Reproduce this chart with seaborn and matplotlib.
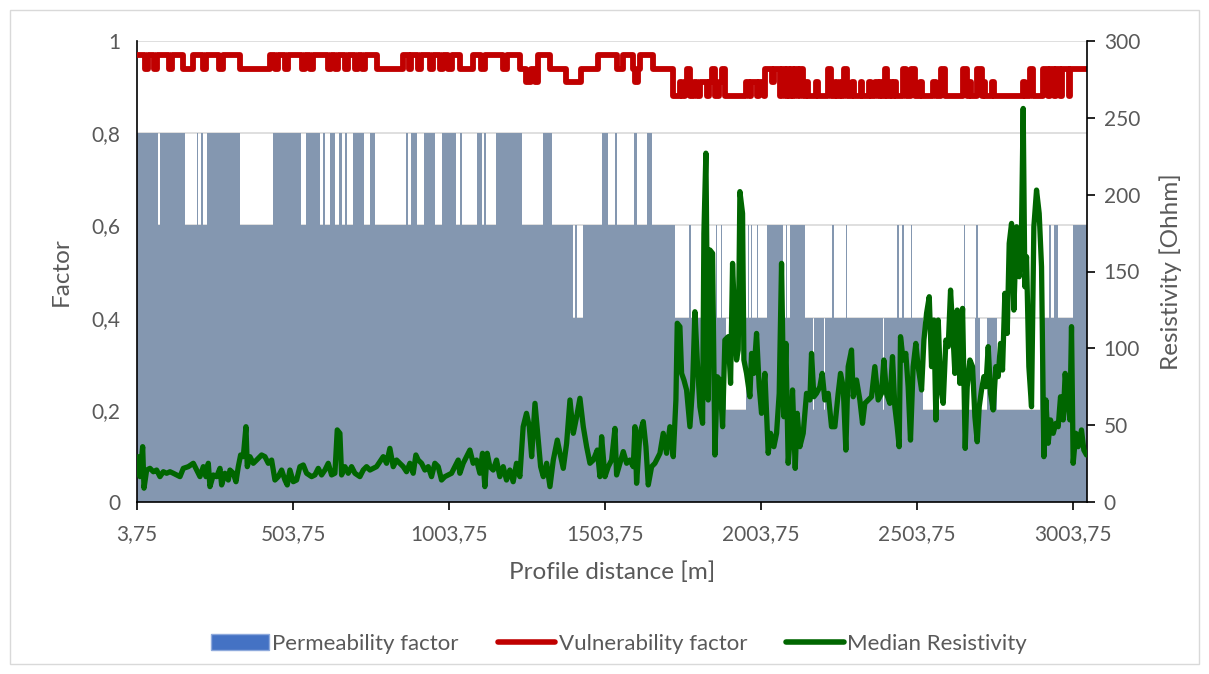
import numpy as np
import pandas as pd
import matplotlib
matplotlib.use("Agg")
import matplotlib.pyplot as plt
import seaborn as sns
from matplotlib.patches import Patch, Rectangle
from matplotlib.lines import Line2D
from matplotlib.ticker import FuncFormatter

# profile extent [m]
profile_start = 3.75
profile_end = 3048.75

# permeability factor: start of each run [m] and its value
perm_start = [3.75, 72, 77, 157, 195, 200, 208, 216, 227, 334, 441, 528, 547, 590, 599, 606,
              622, 638, 652, 660, 670, 678, 695, 731, 752, 766, 866, 873, 882, 900, 924, 958,
              980, 1026, 1039, 1047, 1094, 1108, 1116, 1122, 1154, 1237, 1278, 1281, 1304, 1333,
              1402, 1407, 1413, 1432, 1493, 1514, 1536, 1543, 1597, 1605, 1637, 1656, 1728, 1774,
              1779, 1859, 1863, 1875, 1879, 1893, 1957, 1962, 1966, 1972, 1976, 1990, 1995, 2022,
              2075, 2084, 2087, 2096, 2144, 2170, 2173, 2205, 2208, 2233, 2237, 2262, 2265, 2276,
              2280, 2395, 2399, 2441, 2446, 2456, 2461, 2484, 2489, 2524, 2655, 2659, 2689, 2693,
              2700, 2705, 2727, 2759, 2897, 2928, 2934, 2944, 2956, 3004]
perm_value = [0.8, 0.6, 0.8, 0.6, 0.8, 0.6, 0.8, 0.6, 0.8, 0.6, 0.8, 0.6, 0.8, 0.6, 0.8, 0.6,
              0.8, 0.6, 0.8, 0.6, 0.8, 0.6, 0.8, 0.6, 0.8, 0.6, 0.8, 0.6, 0.8, 0.6, 0.8, 0.6,
              0.8, 0.6, 0.8, 0.6, 0.8, 0.6, 0.8, 0.6, 0.8, 0.6, 0.4, 0.6, 0.8, 0.6,
              0.4, 0.6, 0.4, 0.6, 0.8, 0.6, 0.8, 0.6, 0.8, 0.6, 0.8, 0.6, 0.4, 0.6,
              0.4, 0.6, 0.4, 0.6, 0.4, 0.2, 0.4, 0.6, 0.4, 0.6, 0.4, 0.6, 0.4, 0.6,
              0.4, 0.6, 0.4, 0.6, 0.4, 0.2, 0.4, 0.2, 0.4, 0.6, 0.4, 0.2, 0.4, 0.6,
              0.4, 0.2, 0.4, 0.6, 0.4, 0.6, 0.4, 0.6, 0.4, 0.2, 0.6, 0.2, 0.4, 0.6,
              0.4, 0.2, 0.4, 0.2, 0.4, 0.6, 0.4, 0.6, 0.4, 0.6]

# vulnerability factor: start of each run [m] and its value
vul_start = [3.75, 28, 38, 58, 68, 105, 115, 150, 184, 216, 224, 267, 280, 334, 430, 447, 456,
             478, 488, 532, 542, 559, 569, 617, 627, 639, 649, 671, 681, 703, 713, 724, 734,
             772, 857, 874, 883, 906, 915, 943, 953, 975, 985, 1002, 1012, 1039, 1082, 1107,
             1118, 1178, 1189, 1231, 1252, 1268, 1279, 1290, 1327, 1380, 1428, 1482, 1541, 1562,
             1594, 1600, 1610, 1615, 1658, 1723, 1744, 1752, 1760, 1768, 1775, 1790, 1800, 1808,
             1830, 1838, 1848, 1855, 1870, 1880, 1887, 1957, 1965, 1972, 1990, 1998, 2012, 2018,
             2040, 2046, 2066, 2072, 2080, 2086, 2094, 2100, 2108, 2114, 2122, 2128, 2139, 2148,
             2154, 2180, 2186, 2218, 2228, 2240, 2248, 2258, 2264, 2270, 2278, 2296, 2302, 2323,
             2329, 2350, 2356, 2370, 2378, 2384, 2392, 2400, 2408, 2416, 2424, 2430, 2438, 2460,
             2470, 2486, 2497, 2513, 2521, 2555, 2565, 2582, 2593, 2652, 2663, 2672, 2678, 2695,
             2711, 2716, 2722, 2745, 2752, 2845, 2851, 2866, 2876, 2908, 2925, 2930, 2943, 2950,
             2962, 2968, 2990, 2995]
vul_value = [0.97, 0.94, 0.97, 0.94, 0.97, 0.94, 0.97, 0.94, 0.97, 0.94, 0.97, 0.94, 0.97, 0.94, 0.97, 0.94, 0.97,
             0.94, 0.97, 0.94, 0.97, 0.94, 0.97, 0.94, 0.97, 0.94, 0.97, 0.94, 0.97, 0.94, 0.97, 0.94, 0.97,
             0.94, 0.97, 0.94, 0.97, 0.94, 0.97, 0.94, 0.97, 0.94, 0.97, 0.94, 0.97, 0.94, 0.97, 0.94,
             0.97, 0.94, 0.97, 0.94, 0.91, 0.94, 0.91, 0.97, 0.94, 0.91, 0.94, 0.97, 0.94, 0.97,
             0.94, 0.91, 0.94, 0.97, 0.94, 0.88, 0.91, 0.88, 0.91, 0.94, 0.88, 0.91, 0.88, 0.91,
             0.88, 0.91, 0.94, 0.88, 0.91, 0.94, 0.88, 0.91, 0.88, 0.91, 0.88, 0.91, 0.88, 0.94,
             0.91, 0.94, 0.88, 0.94, 0.88, 0.94, 0.88, 0.94, 0.88, 0.94, 0.88, 0.94, 0.88, 0.91,
             0.88, 0.91, 0.88, 0.94, 0.88, 0.91, 0.88, 0.91, 0.88, 0.94, 0.88, 0.91, 0.88, 0.91,
             0.88, 0.91, 0.88, 0.91, 0.88, 0.91, 0.88, 0.94, 0.88, 0.91, 0.88, 0.91, 0.88, 0.94,
             0.88, 0.94, 0.88, 0.91, 0.88, 0.91, 0.88, 0.94, 0.88, 0.94, 0.88, 0.91, 0.88, 0.94,
             0.88, 0.91, 0.88, 0.91, 0.88, 0.91, 0.88, 0.94, 0.88, 0.94, 0.88, 0.94, 0.88, 0.94,
             0.88, 0.94, 0.88, 0.94]

# median resistivity along the profile
res_dist = [3.75, 8.0, 13.3, 21.9, 26.2, 34.7, 45.4, 56.1, 66.7, 77.4, 88.1, 98.8, 109.5, 120.1,
            141.5, 152.2, 168.2, 184.2, 194.9, 205.6, 216.3, 224.8, 232.3, 237.6, 248.3, 259.0,
            269.7, 275.0, 285.7, 296.4, 301.7, 312.4, 321.0, 328.4, 335.9, 344.4, 353.0, 357.2,
            365.8, 376.5, 387.1, 403.2, 413.8, 424.5, 435.2, 445.9, 456.6, 467.3, 477.9, 485.4,
            493.9, 504.6, 515.3, 526.0, 536.7, 547.3, 563.4, 574.0, 584.7, 595.4, 606.1, 616.8,
            627.4, 638.1, 645.6, 654.1, 659.5, 670.2, 680.8, 691.5, 702.2, 718.2, 728.9, 739.6,
            750.3, 771.6, 782.3, 793.0, 803.7, 814.3, 825.0, 835.7, 846.4, 857.1, 867.7, 878.4,
            889.1, 897.6, 905.1, 915.8, 926.5, 937.2, 947.8, 958.5, 969.2, 979.9, 990.6, 1001.2,
            1011.9, 1022.6, 1033.3, 1038.6, 1049.3, 1060.0, 1070.7, 1081.3, 1092.0, 1102.7,
            1111.2, 1118.7, 1126.2, 1134.7, 1145.4, 1156.1, 1166.8, 1177.5, 1188.1, 1198.8,
            1209.5, 1220.2, 1230.9, 1241.5, 1252.2,
            1261.2, 1268.7, 1279.4, 1290.0, 1297.5, 1306.1, 1316.7, 1327.4, 1338.1, 1350.9,
            1359.5, 1370.1, 1380.8, 1391.5, 1402.2, 1412.9, 1423.5, 1434.2, 1444.9, 1455.6,
            1466.3, 1479.1, 1487.6, 1493.0, 1503.6, 1514.3, 1525.0, 1535.7, 1541.0, 1551.7,
            1562.4, 1573.1, 1583.7, 1594.4, 1599.8, 1605.1, 1615.8, 1626.5, 1635.0, 1642.5,
            1653.2, 1663.8, 1679.9, 1690.5, 1701.2, 1711.9, 1722.6, 1731.1, 1735.4, 1743.9,
            1749.3, 1756.8, 1765.3, 1776.0, 1784.5, 1792.0, 1799.5, 1808.0, 1816.6, 1820.8,
            1827.2, 1834.7, 1840.1, 1848.6, 1856.1, 1863.6, 1872.1, 1880.7, 1888.1, 1898.8,
            1906.3, 1912.7, 1920.2, 1925.5, 1930.8, 1936.2, 1944.7, 1949.0, 1957.5, 1968.2,
            1973.6, 1981.0, 1989.6, 1998.1, 2005.6, 2016.3, 2027.0, 2034.4, 2045.1, 2053.7,
            2062.2, 2069.7, 2077.2, 2083.6, 2091.0, 2098.5, 2104.9, 2113.5, 2119.9, 2128.4,
            2139.1, 2149.8, 2160.5, 2165.8, 2173.3, 2181.8, 2192.5, 2200.0, 2208.5, 2219.2,
            2229.9, 2240.6, 2251.2, 2258.7, 2267.3, 2275.8, 2283.3, 2294.0, 2299.3, 2310.0,
            2320.7, 2329.2, 2336.7, 2347.4, 2358.0, 2368.7, 2379.4, 2390.1, 2397.6, 2406.1,
            2416.8, 2425.3, 2432.8, 2440.3, 2446.7, 2451.0, 2459.5, 2468.0, 2475.5, 2483.0,
            2491.5, 2500.1, 2507.5,
            2518.5, 2526.0, 2534.5, 2543.1, 2550.5, 2558.0, 2564.4, 2571.9, 2579.4, 2587.9,
            2596.5, 2603.9, 2611.4, 2617.8, 2625.3, 2632.8, 2641.3, 2649.9, 2658.4, 2664.8,
            2673.4, 2681.9, 2689.4, 2696.9, 2703.3, 2710.7, 2718.2, 2724.6, 2732.1, 2739.6,
            2748.1, 2756.7, 2764.1, 2771.6, 2778.0, 2785.5, 2793.0, 2799.4, 2806.9, 2814.3,
            2822.9, 2831.4, 2838.9, 2844.2, 2849.6, 2854.9, 2862.4, 2870.9, 2878.4, 2887.0,
            2895.5, 2903.0, 2910.5, 2916.9, 2924.3, 2931.8, 2940.4, 2948.9, 2956.4, 2963.9,
            2972.4, 2978.8, 2985.2, 2993.8, 2999.1, 3004.4, 3013.0, 3020.5, 3031.1, 3038.6,
            3047.2]
res_ohm = [20.8, 29.5, 16.5, 36.0, 9.0, 20.8, 21.9, 19.7, 20.8, 16.5, 19.7, 18.7, 19.7, 18.7,
           16.5, 21.9, 23.0, 25.2, 20.8, 16.5, 23.0, 16.5, 25.2, 10.0, 17.6, 16.5,
           21.9, 11.1, 18.7, 14.3, 20.8, 18.7, 13.2, 23.0, 30.6, 29.5, 49.0, 23.0,
           29.5, 25.2, 27.3, 30.6, 29.5, 25.2, 27.3, 14.3, 16.5, 20.8, 14.3, 11.1,
           20.8, 13.2, 14.3, 23.0, 24.1, 18.7, 16.5, 17.6, 21.9, 17.6, 20.8, 25.2,
           17.6, 18.7, 46.9, 44.7, 17.6, 23.0, 18.7, 23.0, 18.7, 16.5, 20.8, 23.0,
           20.8, 23.0, 26.3, 29.5, 25.2, 34.9, 23.0, 27.3, 25.2, 23.0, 19.7, 25.2,
           18.7, 30.6, 27.3, 25.2, 20.8, 23.0, 16.5, 25.2, 23.0, 14.3, 16.5, 17.6,
           18.7, 23.0, 27.3, 18.7, 25.2, 29.5, 33.8, 25.2, 27.3, 18.7,
           31.7, 10.0, 31.7, 23.0, 20.8, 27.3, 16.5, 23.0, 14.3, 20.8,
           13.2, 25.2, 16.5, 49.0, 57.7,
           49.0, 29.5, 64.2, 40.3, 23.0, 16.5, 25.2, 10.0, 27.3, 40.3,
           31.7, 21.9, 38.2, 66.4, 44.7, 55.5, 67.5, 49.0, 36.0, 25.2,
           27.3, 33.8, 16.5, 42.5, 16.5, 23.0, 27.3, 47.9, 17.6, 25.2,
           32.8, 25.2, 27.3, 23.0, 49.0, 12.2, 44.7, 52.3, 36.0, 11.1,
           23.0, 25.2, 31.7, 44.7, 31.7, 49.0, 29.5, 66.4, 116.3, 114.1,
           83.7, 79.4, 72.9, 49.0, 75.0, 123.8, 92.4, 62.0, 51.2, 174.8,
           227.0, 66.4, 164.0, 161.8, 30.6, 81.5, 79.4, 49.0, 105.4, 107.6,
           77.2, 155.3, 114.1, 92.4, 98.9, 202.0, 187.8, 92.4, 83.7, 68.5,
           96.7, 83.7, 109.7, 75.0, 57.7, 83.7, 31.7, 44.7, 36.0, 44.7,
           70.7, 155.3, 55.5, 103.2, 25.2, 44.7, 72.9, 21.9, 57.7, 36.0,
           44.7, 70.7, 66.4, 96.7, 68.5, 70.7, 75.0, 83.7, 66.4, 70.7,
           49.0, 49.0, 70.7, 83.7, 75.0, 33.8, 88.1, 98.9, 68.5, 79.4,
           66.4, 51.2, 64.2, 66.4, 68.5, 88.1, 66.4, 70.7, 92.4, 70.7,
           64.2, 94.6, 62.0, 49.0, 36.0, 107.6, 92.4, 96.7, 75.0, 40.3,
           88.1, 103.2, 88.1,
           72.9, 105.4, 122.8, 133.6, 88.1, 118.4, 53.4, 118.4, 75.0, 64.2,
           105.4, 101.1, 137.9, 114.1, 83.7, 124.9, 77.2, 126.0, 34.9, 75.0,
           92.4, 88.1, 55.5, 39.2, 62.0, 72.9, 81.6, 75.0, 101.1, 70.7,
           59.9, 88.1, 81.6, 103.2, 85.9, 135.8, 109.7, 168.3, 181.3, 124.9,
           179.1, 146.6, 179.1, 256.1, 140.1, 159.6, 88.1, 62.0, 179.1, 203.0,
           187.8, 153.1, 29.5, 66.4, 38.2, 53.4, 44.7, 51.2, 49.0, 68.5,
           53.4, 83.7, 68.5, 53.4, 114.1, 25.2, 44.7, 36.0, 46.9, 33.8,
           30.6]

fill_col = '#8497B0'
red = '#C00000'
green = '#006600'
txt = '#595959'

sns.set_theme(style="white")
plt.rcParams['font.family'] = ['Lato', 'DejaVu Sans']

fig = plt.figure(figsize=(12.09, 6.74), dpi=100)
ax = fig.add_axes([137 / 1209, 1 - 502 / 674, 950 / 1209, 461 / 674])
ax2 = ax.twinx()

# permeability as stepped area
edges = perm_start + [profile_end]
vals = perm_value + [perm_value[-1]]
ax.fill_between(edges, vals, step='post', color=fill_col, lw=0, zorder=2)

vul = pd.DataFrame({'dist': vul_start + [profile_end], 'factor': vul_value + [vul_value[-1]]})
sns.lineplot(data=vul, x='dist', y='factor', ax=ax, color=red, lw=4.2, estimator=None,
             sort=False, drawstyle='steps-post', zorder=3)

res = pd.DataFrame({'dist': res_dist, 'ohm': res_ohm})
sns.lineplot(data=res, x='dist', y='ohm', ax=ax2, color=green, lw=3.8, estimator=None,
             sort=False, zorder=4)
for ln in ax.lines + ax2.lines:
    ln.set_solid_joinstyle('round')
    ln.set_solid_capstyle('round')

ax.set_xlim(profile_start, profile_end)
ax.set_ylim(0, 1)
ax2.set_ylim(0, 300)

ax.set_yticks(np.arange(0, 1.01, 0.2))
ax.yaxis.set_major_formatter(FuncFormatter(lambda v, p: f"{v:g}".replace('.', ',')))
ax.set_xticks(np.arange(3.75, 3004, 500))
ax.xaxis.set_major_formatter(FuncFormatter(lambda v, p: f"{v:.2f}".replace('.', ',')))
ax2.set_yticks(np.arange(0, 301, 50))

ax.set_axisbelow(True)
ax.yaxis.grid(True, color='#D9D9D9', lw=1.2, zorder=0)
ax.xaxis.grid(False)

for a in (ax, ax2):
    for s in a.spines.values():
        s.set_visible(False)
ax.spines['left'].set_visible(True)
ax.spines['bottom'].set_visible(True)
ax2.spines['right'].set_visible(True)
for s in (ax.spines['left'], ax.spines['bottom'], ax2.spines['right']):
    s.set_color('black')
    s.set_linewidth(1.2)

ax.tick_params(axis='x', direction='out', length=6, width=1.2, color='black',
               labelsize=15, labelcolor=txt, pad=10, bottom=True)
ax.tick_params(axis='y', length=0, labelsize=15, labelcolor=txt, pad=12, left=True)
ax2.tick_params(axis='y', direction='out', length=6, width=1.2, color='black',
                labelsize=15, labelcolor=txt, pad=6, right=True)

ax.set_xlabel('Profile distance [m]', fontsize=17.5, color=txt, labelpad=12)
ax.set_ylabel('Factor', fontsize=17.5, color=txt, labelpad=14)
ax2.set_ylabel('Resistivity [Ohhm]', fontsize=17.5, color=txt, labelpad=14)

handles = [Patch(facecolor='#4472C4', edgecolor='#8FAADC', lw=1),
           Line2D([], [], color=red, lw=4),
           Line2D([], [], color=green, lw=4)]
labels = ['Permeability factor', 'Vulnerability factor', 'Median Resistivity']
fig.legend(handles, labels, loc='center', bbox_to_anchor=(619 / 1209, 1 - 644 / 674), ncol=3,
           frameon=False, fontsize=16, labelcolor=txt, handlelength=2.6, handleheight=0.7,
           handletextpad=0.15, columnspacing=1.75)

fig.patches.append(Rectangle((10 / 1209, 10 / 674), 1189 / 1209, 654 / 674,
                             transform=fig.transFigure, fill=False, edgecolor='#D9D9D9', lw=1))

fig.savefig('out.png', dpi=100, facecolor='white')
